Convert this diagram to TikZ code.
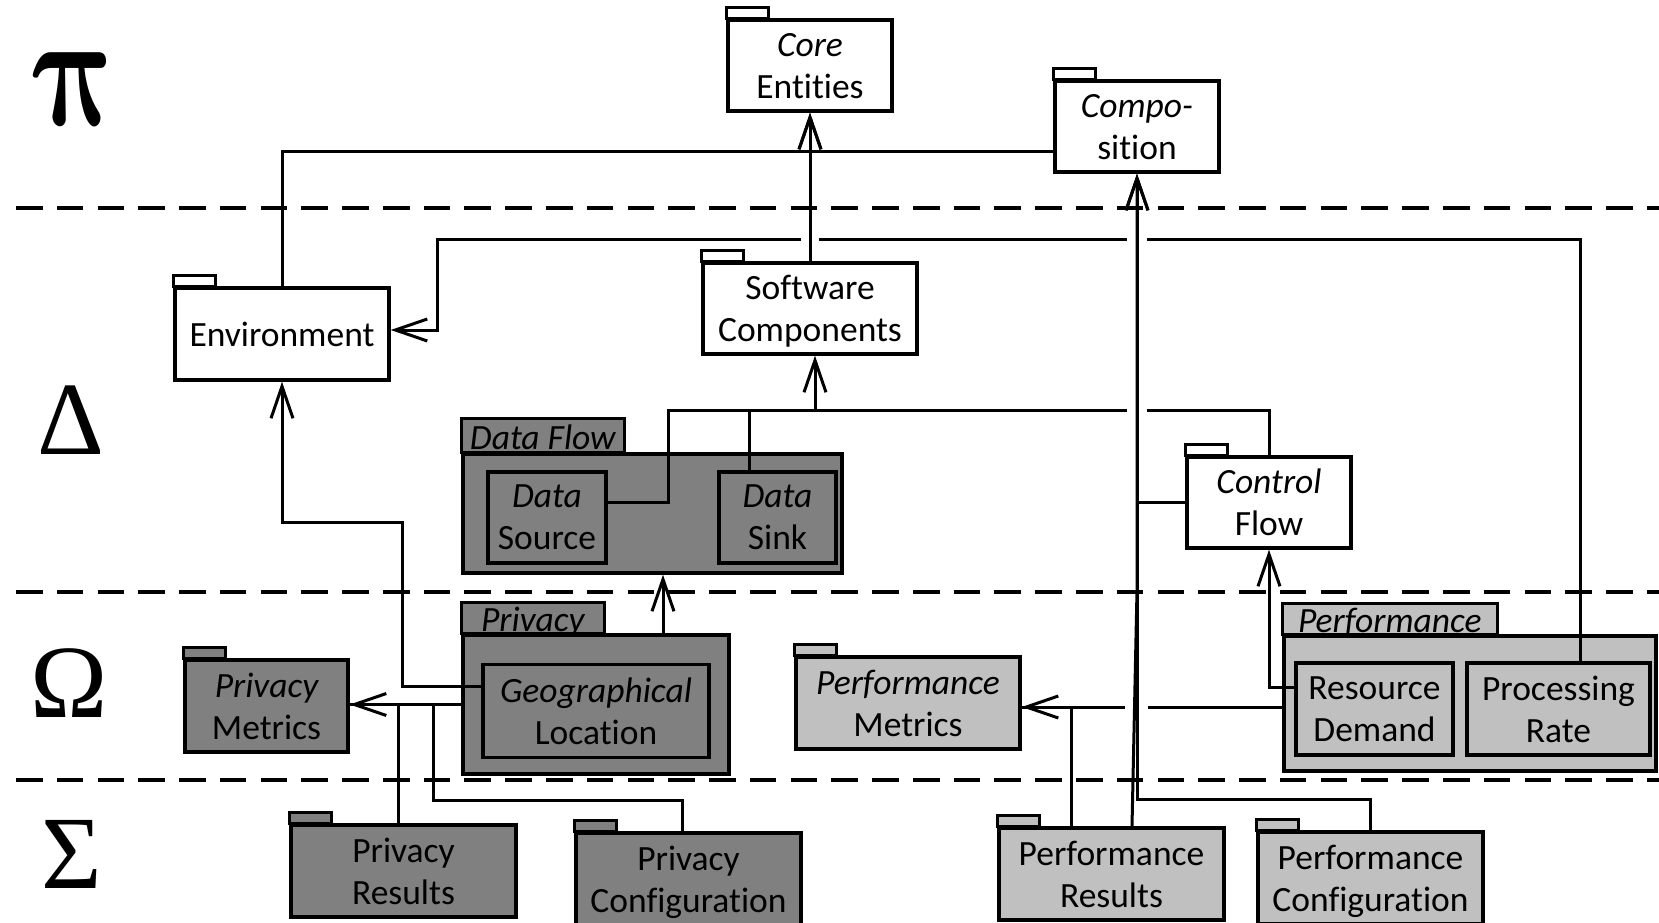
\documentclass[tikz,border=0pt]{standalone}
\usepackage{fontspec}
\setmainfont{Carlito}[Ligatures=CommonOff, RawFeature=-liga, RawFeature=-clig, RawFeature=-calt, RawFeature=-dlig]
\newfontfamily\grkfont{Liberation Serif}
\usetikzlibrary{arrows.meta,calc}
\definecolor{dk}{HTML}{808080}
\definecolor{lt}{HTML}{C0C0C0}
\newcommand\pkgnode[6]{%
  \node[pkgbox, fill=#5, minimum width=#3pt, minimum height=#4pt] (#1) at #2 {#6};
  \draw[boxline, fill=#5] (#1.north west) rectangle ++(42,-11);
}
\begin{document}
\begin{tikzpicture}[x=1pt,y=-1pt,
  boxline/.style={draw=black, line width=3.4pt},
  pkgbox/.style={boxline, rectangle, inner sep=0pt, align=center, text depth=0pt, font=\fontsize{35.5}{42}\selectfont},
  conn/.style={line width=3pt, line join=miter},
  arr/.style={conn, -{Straight Barb[length=32pt,width=22pt]}},
  greek/.style={inner sep=0pt},
  tablabel/.style={inner sep=0pt, font=\itshape\fontsize{35.5}{42}\selectfont},
  sepline/.style={line width=3.4pt, dash pattern=on 26.6pt off 14.17pt}
]
\useasboundingbox (0,0) rectangle (1659,923);
\clip (0,0) rectangle (1659,923);

% layer separators
\draw[sepline] (16,208) -- (1659,208);
\draw[sepline] (16,592) -- (1659,592);
\draw[sepline] (16,780) -- (1659,780);

% layer letters
\begin{scope}[shift={(75,89)}, xslant=-0.2]
\node[greek, transform shape] (lpi) at (0,0) {\scalebox{12}[16.4]{\boldmath$\pi$}};
\end{scope}
\node[greek, font=\grkfont\fontsize{104}{104}\selectfont] (ldelta) at (71,420) {Δ};
\node[greek, font=\grkfont\fontsize{104}{104}\selectfont] (lomega) at (69,683) {Ω};
\node[greek, font=\grkfont\fontsize{104}{104}\selectfont] (lsigma) at (72,854) {Σ};

% Pi layer
\pkgnode{core}{(810,65.5)}{164}{91}{white}{\itshape Core\\Entities}
\pkgnode{comp}{(1137,126.5)}{164}{91}{white}{\itshape Compo-\\sition}

% Delta layer
\pkgnode{env}{(282,334)}{214}{92}{white}{Environment}
\pkgnode{sc}{(810,308.5)}{214}{91}{white}{Software\\Components}
\pkgnode{cf}{(1269,502.5)}{164}{91}{white}{\itshape Control\\Flow}

\node[pkgbox, fill=dk, minimum width=379pt, minimum height=119pt] (df) at (652.5,513.5) {};
\draw[boxline, fill=dk] (df.north west) rectangle ++(163,-34);
\node[tablabel, anchor=base] (dflbl) at ($(df.north west)+(81.5,-3)$) {Data Flow};
\node[pkgbox, fill=dk, minimum width=118pt, minimum height=91pt] (ds) at (547,517.5) {\itshape Data\\Source};
\node[pkgbox, fill=dk, minimum width=117pt, minimum height=91pt] (dsk) at (777.5,517.5) {\itshape Data\\Sink};

% Omega layer
\pkgnode{pm}{(266.5,706)}{163}{92}{dk}{\itshape Privacy\\Metrics}
\node[pkgbox, fill=dk, minimum width=266pt, minimum height=139pt] (priv) at (596,704.5) {};
\draw[boxline, fill=dk] (priv.north west) rectangle ++(143,-31);
\node[tablabel, anchor=base] (privlbl) at ($(priv.north west)+(71.5,-2)$) {Privacy};
\node[pkgbox, fill=dk, minimum width=226pt, minimum height=93pt] (geo) at (596,711) {\itshape Geographical\\Location};

\pkgnode{perfm}{(908,703)}{224}{92}{lt}{\itshape Performance\\Metrics}
\node[pkgbox, fill=lt, minimum width=372pt, minimum height=135pt] (perf) at (1470,703.5) {};
\draw[boxline, fill=lt] (perf.north west) rectangle ++(215,-31);
\node[tablabel, anchor=base] (perflbl) at ($(perf.north west)+(107.5,-2)$) {Performance};
\node[pkgbox, fill=lt, minimum width=157pt, minimum height=92pt] (rd) at (1374.5,709) {Resource\\Demand};
\node[pkgbox, fill=lt, minimum width=183pt, minimum height=92pt] (pr) at (1558.5,709) {Processing\\Rate};

% Sigma layer
\pkgnode{pres}{(403.5,871)}{225}{92}{dk}{Privacy\\Results}
\pkgnode{pcfg}{(688.5,879)}{225}{92}{dk}{Privacy\\Configuration}
\pkgnode{perfres}{(1111.5,874)}{225}{92}{lt}{Performance\\Results}
\pkgnode{perfcfg}{(1370.5,878)}{225}{92}{lt}{Performance\\Configuration}

% ---- connectors (lower ones) ----
\coordinate (jcore) at (810,151);
\draw[arr] (env.north) |- (jcore) -- (core.south);
\draw[conn] (comp.west |- jcore) -- (jcore);

\coordinate (bpr) at (437,239);
\draw[arr] ([xshift=21.5pt]pr.north) |- (bpr) |- ([yshift=4pt]env.east);

\coordinate (bgeo) at (402,522);
\draw[arr] ([yshift=25pt]geo.west) -| (bgeo) -| (env.south);

\coordinate (jpm) at (priv.west -| pm.east);
\draw[arr] (priv.west) -- (jpm);
\draw[conn] ([xshift=-5pt]pres.north) |- (jpm);
\coordinate (bpc) at (433,800);
\draw[conn] ([xshift=-6pt]pcfg.north) |- (bpc) |- (jpm);

\draw[arr] ([xshift=67pt]priv.north) -- ([xshift=67pt]priv.north |- df.south);

\coordinate (jsc) at (815,410);
\draw[arr] (jsc) -- (jsc |- sc.south);
\coordinate (bds) at (668,410);
\draw[conn] ([yshift=15.5pt]ds.east) -| (bds) -- (jsc);
\draw[conn] ([xshift=-28.5pt]dsk.north) |- (jsc);
\draw[conn] (cf.north) |- (jsc);

\draw[arr] ([yshift=22pt]rd.west) -| (cf.south);

\coordinate (jpf) at ([yshift=-3.5pt]perf.west -| perfm.east);
\draw[arr] ([yshift=-3.5pt]perf.west) -- (jpf);
\draw[conn] ([xshift=-40.5pt]perfres.north) |- (jpf);

% ---- line hops ----
\fill[white] (801,235) rectangle (819,243);
\fill[white] (1127,235) rectangle (1147,243);
\fill[white] (1127,406) rectangle (1147,414);
\fill[white] (1125,703) rectangle (1148,711);

% ---- connectors (upper ones) ----
\draw[arr] (sc.north) -- (core.south);
\coordinate (bcomp) at (1137,590);
\draw[arr] ([xshift=20.5pt]perfres.north) -- (bcomp) -- (comp.south);
\coordinate (bpcf) at (1137,799);
\draw[arr] (perfcfg.north) |- (bpcf) -- (comp.south);
\draw[conn] (cf.west) -- (cf.west -| comp.south);
\end{tikzpicture}
\end{document}
